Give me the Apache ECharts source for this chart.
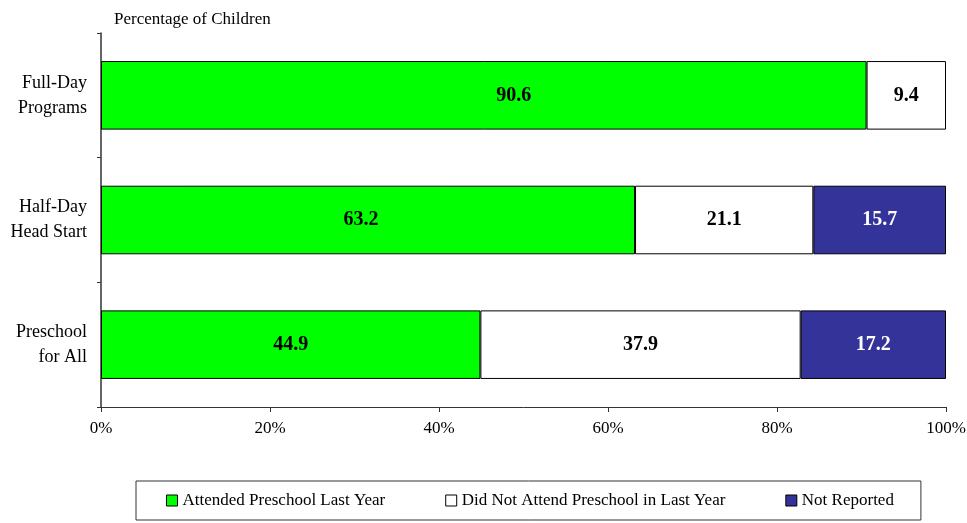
<!DOCTYPE html>
<html>
<head>
<meta charset="utf-8">
<script src="https://cdn.jsdelivr.net/npm/echarts@6/dist/echarts.min.js"></script>
<style>
  html, body { margin: 0; padding: 0; background: #fff; }
  #chart { width: 967px; height: 523px; }
</style>
</head>
<body>
<div id="chart"></div>
<script>
// preschool attendance by program type
const categories = ['Full-Day\nPrograms', 'Half-Day\nHead Start', 'Preschool\nfor All']
const seriesNames = ['Attended Preschool Last Year', 'Did Not Attend Preschool in Last Year', 'Not Reported']
const attended = [90.6, 63.2, 44.9]
const notAttended = [9.4, 21.1, 37.9]
const notReported = [null, 15.7, 17.2]
const xTicks = [0, 20, 40, 60, 80, 100]

const font = '"Liberation Serif", "Times New Roman", serif'
const colors = ['#00ff00', '#ffffff', '#333399']
const labelColors = ['#000', '#000', '#fff']
const values = [attended, notAttended, notReported]
// the original nudges a couple of labels off centre
const labelShift = [[30, -7, 0], [0, 0, 0], [0, 0, 0]]

const chart = echarts.init(document.getElementById('chart'))

const series = seriesNames.map((name, i) => ({
  name: name,
  type: 'bar',
  stack: 'total',
  barWidth: '55%',
  data: values[i].map((v, j) => ({
    value: v,
    label: { offset: [labelShift[i][j], 0] },
  })),
  itemStyle: {
    color: colors[i],
    borderColor: '#000',
    borderWidth: 1,
  },
  label: {
    show: true,
    position: 'inside',
    color: labelColors[i],
    fontFamily: font,
    fontWeight: 'bold',
    fontSize: 20,
    formatter: p => p.value == null ? '' : p.value.toFixed(1),
  },
}))

chart.setOption({
  animation: false,
  textStyle: { fontFamily: font },
  title: {
    text: 'Percentage of Children',
    left: 109,
    top: 6,
    textStyle: { fontFamily: font, fontWeight: 'normal', fontSize: 17, color: '#000' },
  },
  grid: {
    left: 101,
    right: 21,
    top: 33,
    bottom: 116,
    containLabel: false,
    outerBoundsMode: 'none',
  },
  legend: {
    data: seriesNames,
    left: 136,
    top: 481,
    padding: [11, 27, 11, 30],
    itemGap: 60,
    itemWidth: 11,
    itemHeight: 11,
    borderColor: '#333',
    borderWidth: 1,
    icon: 'rect',
    itemStyle: { borderColor: '#000', borderWidth: 1 },
    textStyle: { fontFamily: font, fontSize: 17, color: '#000' },
  },
  xAxis: {
    type: 'value',
    min: xTicks[0],
    max: xTicks[xTicks.length - 1],
    interval: 20,
    axisLine: { show: true, lineStyle: { color: '#333', width: 1 } },
    axisTick: { show: true, inside: false, length: 5, lineStyle: { color: '#333' } },
    splitLine: { show: false },
    axisLabel: {
      color: '#000',
      fontFamily: font,
      fontSize: 17,
      margin: 13,
      formatter: '{value}%',
    },
  },
  yAxis: {
    type: 'category',
    inverse: true,
    data: categories,
    axisLine: { show: true, lineStyle: { color: '#333', width: 1.5 } },
    axisTick: { show: true, inside: false, length: 4, lineStyle: { color: '#333' } },
    axisLabel: {
      color: '#000',
      fontFamily: font,
      fontSize: 18,
      margin: 14,
      lineHeight: 25,
      align: 'right',
    },
  },
  series: series,
})
</script>
</body>
</html>
